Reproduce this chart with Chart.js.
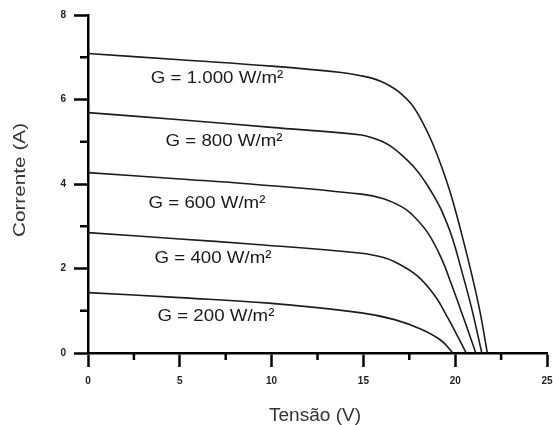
<!DOCTYPE html>
<html>
<head>
    <meta charset="UTF-8">
    <title>Curva I-V</title>
    <style type="text/css">
        body {
            background-color: white;
            margin: 0;
            padding: 0;
        }

        #ivChartContainer {
            width: 553px;
            height: 425px;
        }
    </style>
    <script src="https://cdn.jsdelivr.net/npm/chart.js@4.4.0/dist/chart.umd.min.js"></script>
</head>
<body>
    <div id="ivChartContainer">
        <canvas id="ivChart" width="553" height="425"></canvas>
    </div>

    <script type="text/javascript">
    // valores: tensão (V) e corrente (A) de cada curva
    var irradiances = ['G = 1.000 W/m²', 'G = 800 W/m²', 'G = 600 W/m²', 'G = 400 W/m²', 'G = 200 W/m²'];

    var volts1000 = [0, 5, 10, 13.8, 14.9, 15.5, 16.0, 16.45, 16.9, 17.6, 18.15, 18.7, 19.25, 19.8, 20.35, 20.9, 21.35, 21.75];
    var amps1000  = [7.09, 6.94, 6.79, 6.64, 6.56, 6.50, 6.42, 6.32, 6.19, 5.90, 5.52, 5.03, 4.42, 3.70, 2.82, 1.86, 0.98, 0];

    var volts800 = [0, 5, 10, 14.9, 15.5, 16.0, 16.5, 17.05, 17.8, 18.35, 18.9, 19.25, 19.8, 20.35, 20.9, 21.45];
    var amps800  = [5.69, 5.52, 5.34, 5.16, 5.09, 5.01, 4.89, 4.70, 4.38, 4.06, 3.67, 3.38, 2.78, 1.95, 1.05, 0];

    var volts600 = [0, 5, 8.85, 14.9, 16.1, 17.05, 17.6, 18.5, 19.25, 19.8, 20.35, 20.9, 21.12];
    var amps600  = [4.27, 4.12, 4.00, 3.76, 3.65, 3.47, 3.30, 2.85, 2.24, 1.62, 0.96, 0.28, 0];

    var volts400 = [0, 5, 8.85, 14.9, 16.0, 16.7, 17.95, 18.9, 19.6, 20.15, 20.6];
    var amps400  = [2.85, 2.70, 2.58, 2.36, 2.27, 2.16, 1.82, 1.35, 0.83, 0.38, 0];

    var volts200 = [0, 5, 9.85, 14.9, 16.7, 18.15, 19.25, 19.87];
    var amps200  = [1.43, 1.31, 1.18, 0.95, 0.79, 0.56, 0.29, 0];

    // onde fica cada rótulo (em V e A)
    var labelVolts = [7.03, 7.41, 6.48, 6.81, 6.97];
    var labelAmps  = [6.49, 5.00, 3.54, 2.24, 0.86];

    var xMinorTicks = [2.5, 7.5, 12.5, 17.5, 22.5];
    var yMinorTicks = [1, 3, 5, 7];

    var fontFamily = '"Liberation Sans", Arial, sans-serif';

    function toPoints(xs, ys) {
        var pts = [];
        for (var i = 0; i < xs.length; i++) {
            pts.push({ x: xs[i], y: ys[i] });
        }
        return pts;
    }

    function curve(label, xs, ys) {
        return {
            label: label,
            data: toPoints(xs, ys),
            showLine: true,
            borderColor: '#1c1c1c',
            borderWidth: 1.6,
            pointRadius: 0,
            fill: false,
            tension: 0.4
        };
    }

    function scaledText(ctx, text, x, y, sx, sy, rot) {
        ctx.save();
        ctx.translate(x, y);
        if (rot) ctx.rotate(rot);
        ctx.scale(sx, sy);
        ctx.fillText(text, 0, 0);
        ctx.restore();
    }

    var extrasPlugin = {
        id: 'extras',
        afterDraw: function (chart) {
            var ctx = chart.ctx;
            var xs = chart.scales.x;
            var ys = chart.scales.y;
            var area = chart.chartArea;

            // marcas menores
            ctx.save();
            ctx.strokeStyle = '#000';
            ctx.lineWidth = 2.5;
            ctx.beginPath();
            xMinorTicks.forEach(function (v) {
                var px = xs.getPixelForValue(v);
                ctx.moveTo(px, area.bottom);
                ctx.lineTo(px, area.bottom + 7);
            });
            yMinorTicks.forEach(function (v) {
                var py = ys.getPixelForValue(v);
                ctx.moveTo(area.left, py);
                ctx.lineTo(area.left - 8, py);
            });
            ctx.stroke();
            ctx.restore();

            // rótulos das curvas
            ctx.save();
            ctx.fillStyle = '#1a1a1a';
            ctx.font = '17px ' + fontFamily;
            ctx.textAlign = 'center';
            ctx.textBaseline = 'middle';
            for (var i = 0; i < irradiances.length; i++) {
                scaledText(ctx, irradiances[i], xs.getPixelForValue(labelVolts[i]), ys.getPixelForValue(labelAmps[i]), 1.1, 1);
            }

            // títulos dos eixos
            ctx.fillStyle = '#333';
            scaledText(ctx, 'Tensão (V)', 315, 416, 1.12, 1.05);
            scaledText(ctx, 'Corrente (A)', 20, 180, 1.22, 1.0, -Math.PI / 2);
            ctx.restore();
        }
    };

    var axisStyle = {
        grid: {
            drawOnChartArea: false,
            drawTicks: true,
            tickLength: 14,
            tickColor: '#000',
            tickWidth: 2.5,
            color: '#000'
        },
        border: {
            display: true,
            color: '#000',
            width: 2.5
        }
    };

    document.addEventListener("DOMContentLoaded", function () {
        var ctx = document.getElementById('ivChart').getContext('2d');
        new Chart(ctx, {
            type: 'scatter',
            data: {
                datasets: [
                    curve(irradiances[0], volts1000, amps1000),
                    curve(irradiances[1], volts800, amps800),
                    curve(irradiances[2], volts600, amps600),
                    curve(irradiances[3], volts400, amps400),
                    curve(irradiances[4], volts200, amps200)
                ]
            },
            options: {
                responsive: false,
                devicePixelRatio: 1,
                animation: false,
                layout: {
                    padding: { left: 0, right: 6, top: 15, bottom: 0 }
                },
                plugins: {
                    legend: { display: false },
                    tooltip: { enabled: false }
                },
                scales: {
                    x: {
                        type: 'linear',
                        min: 0,
                        max: 25,
                        ticks: {
                            stepSize: 5,
                            padding: 8,
                            color: '#222',
                            font: { family: fontFamily, size: 10, weight: 'bold' }
                        },
                        grid: axisStyle.grid,
                        border: axisStyle.border,
                        afterFit: function (scale) {
                            scale.height = 72;
                            scale.paddingLeft = 0;
                            scale.paddingRight = 6;
                        }
                    },
                    y: {
                        type: 'linear',
                        min: 0,
                        max: 8,
                        ticks: {
                            stepSize: 2,
                            padding: 8,
                            color: '#222',
                            font: { family: fontFamily, size: 10, weight: 'bold' }
                        },
                        grid: axisStyle.grid,
                        border: axisStyle.border,
                        afterFit: function (scale) { scale.width = 88; }
                    }
                }
            },
            plugins: [extrasPlugin]
        });
    });
    </script>
</body>
</html>
